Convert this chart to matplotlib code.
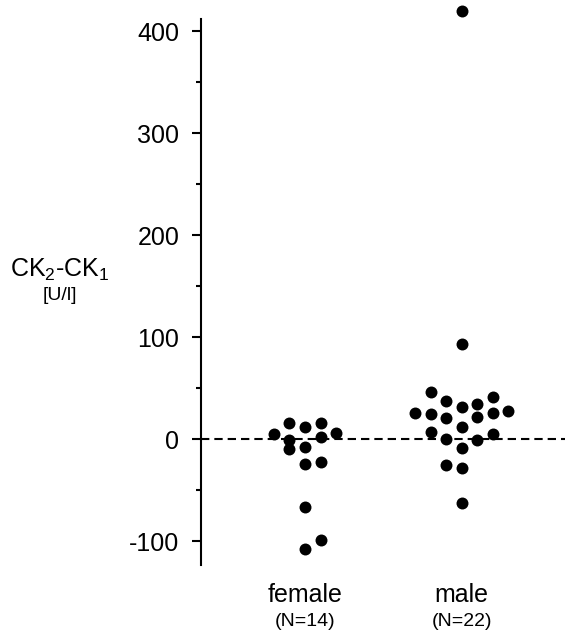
import matplotlib
matplotlib.use("Agg")
import matplotlib.pyplot as plt
import matplotlib.transforms as mtransforms
import numpy as np

plt.rcParams['font.family'] = ['Liberation Sans', 'DejaVu Sans']
plt.rcParams['mathtext.default'] = 'regular'

# Data
groups = ["female", "male"]
group_n = ["(N=14)", "(N=22)"]
female_values = [4.6, 16, 12, 15.4, 6.2, -1, 1.6, -10, -7.5, -24.5, -22.5, -67, -99, -108]
female_slots = [-2, -1, 0, 1, 2, -1, 1, -1, 0, 0, 1, 0, 1, 0]
male_values = [420, 92.8, 46.4, 37.3, 31.7, 34, 41.5, 25.2, 24.5, 20.9, 21.3, 25.2, 27.8,
               12.1, 6.5, 4.6, 0, -1, -8.5, -25.5, -28.7, -62.7]
male_slots = [0, 0, -2, -1, 0, 1, 2, -3, -2, -1, 1, 2, 3, 0, -2, 2, -1, 1, 0, -1, 0, 0]
yticks_major = [-100, 0, 100, 200, 300, 400]
yticks_minor = [-50, 50, 150, 250, 350]

W, H = 565, 631
fig = plt.figure(figsize=(W / 100, H / 100), dpi=100)
ax = fig.add_axes([201 / W, 66 / H, (W - 201) / W, (565 - 19) / H])

slot_w = 0.099
for i, (vals, slots) in enumerate([(female_values, female_slots), (male_values, male_slots)]):
    xs = np.array(slots) * slot_w + (i + 1)
    ax.scatter(xs, vals, s=74, color='black', zorder=3, clip_on=False, linewidths=0)

ax.axhline(0, color='black', lw=1.5, dashes=(4, 2.4), zorder=2)

ax.set_xlim(1 - 104 / 156.7, 2 + (565 - 461.7) / 156.7)
ax.set_ylim(-123.5, 411.8)

for s in ['top', 'right', 'bottom']:
    ax.spines[s].set_visible(False)
ax.spines['left'].set_linewidth(1.5)
ax.set_xticks([])
ax.set_yticks(yticks_major)
ax.set_yticks(yticks_minor, minor=True)
ax.set_yticklabels([str(v) for v in yticks_major])
ax.tick_params(axis='y', which='major', length=6.5, width=1.5, labelsize=18, pad=9)
ax.tick_params(axis='y', which='minor', length=3.6, width=1.5)

trans = mtransforms.blended_transform_factory(ax.transData, fig.transFigure)
for i, (g, n) in enumerate(zip(groups, group_n)):
    ax.text(i + 1, 1 - 602 / H, g, transform=trans, ha='center', va='baseline', fontsize=18)
    ax.text(i + 1, 1 - 626 / H, n, transform=trans, ha='center', va='baseline', fontsize=14)

fig.text(60 / W, 1 - 277 / H, 'CK$_2$-CK$_1$', ha='center', va='baseline', fontsize=18)
fig.text(60 / W, 1 - 300 / H, '[U/l]', ha='center', va='baseline', fontsize=14)

fig.savefig('out.png', dpi=100)
